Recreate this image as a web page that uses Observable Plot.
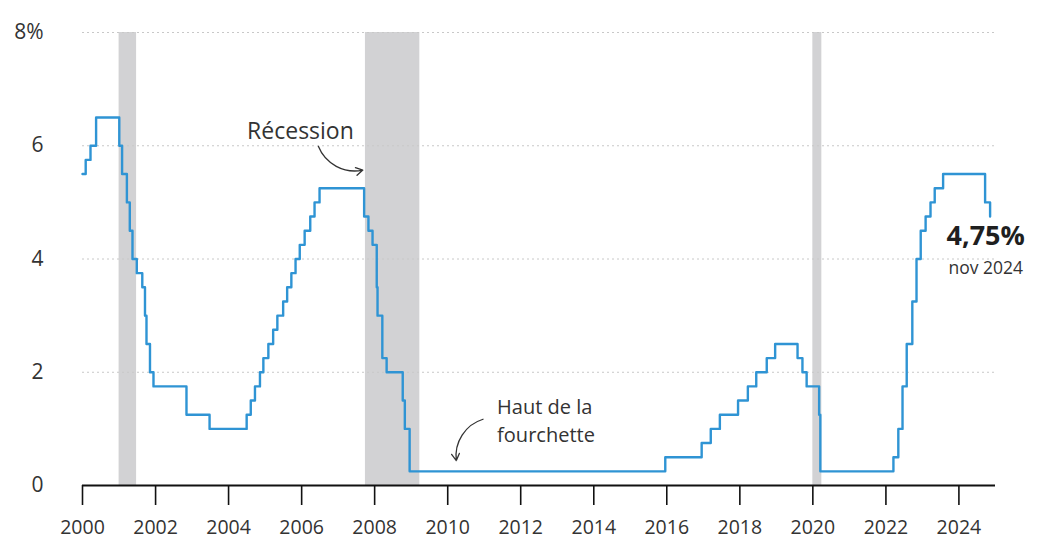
<!DOCTYPE html>
<html>
<head>
<meta charset="utf-8">
<script src="https://cdn.jsdelivr.net/npm/d3@7"></script>
<script src="https://cdn.jsdelivr.net/npm/@observablehq/plot@0.6"></script>
<style>
  html, body { margin: 0; padding: 0; background: #fff; }
  #chart { width: 1037px; height: 549px; }
</style>
</head>
<body>
<div id="chart"></div>
<script>
// Fed funds target rate (upper bound), change dates and values
const rateDates = [
  "2000-01-01","2000-02-02","2000-03-21","2000-05-16",
  "2001-01-03","2001-01-31","2001-03-20","2001-04-18","2001-05-15","2001-06-27",
  "2001-08-21","2001-09-17","2001-10-02","2001-11-06","2001-12-11",
  "2002-11-06","2003-06-25",
  "2004-06-30","2004-08-10","2004-09-21","2004-11-10","2004-12-14",
  "2005-02-02","2005-03-22","2005-05-03","2005-06-30","2005-08-09","2005-09-20","2005-11-01","2005-12-13",
  "2006-01-31","2006-03-28","2006-05-10","2006-06-29",
  "2007-09-18","2007-10-31","2007-12-11",
  "2008-01-22","2008-01-30","2008-03-18","2008-04-30","2008-10-08","2008-10-29","2008-12-16",
  "2015-12-17","2016-12-15","2017-03-16","2017-06-15","2017-12-14",
  "2018-03-22","2018-06-14","2018-09-27","2018-12-20",
  "2019-08-01","2019-09-19","2019-10-31",
  "2020-03-04","2020-03-16",
  "2022-03-17","2022-05-05","2022-06-16","2022-07-28","2022-09-22","2022-11-03","2022-12-15",
  "2023-02-02","2023-03-23","2023-05-04","2023-07-27",
  "2024-09-19","2024-11-08"
];
const rateValues = [
  5.50, 5.75, 6.00, 6.50,
  6.00, 5.50, 5.00, 4.50, 4.00, 3.75,
  3.50, 3.00, 2.50, 2.00, 1.75,
  1.25, 1.00,
  1.25, 1.50, 1.75, 2.00, 2.25,
  2.50, 2.75, 3.00, 3.25, 3.50, 3.75, 4.00, 4.25,
  4.50, 4.75, 5.00, 5.25,
  4.75, 4.50, 4.25,
  3.50, 3.00, 2.25, 2.00, 1.50, 1.00, 0.25,
  0.50, 0.75, 1.00, 1.25, 1.50,
  1.75, 2.00, 2.25, 2.50,
  2.25, 2.00, 1.75,
  1.25, 0.25,
  0.50, 1.00, 1.75, 2.50, 3.25, 4.00, 4.50,
  4.75, 5.00, 5.25, 5.50,
  5.00, 4.75
];

// Recession shading as drawn in the picture
const recessionStarts = ["2001-01-01", "2007-10-01", "2020-01-01"];
const recessionEnds   = ["2001-06-25", "2009-03-28", "2020-03-31"];

// Axis ticks
const yTicks = [0, 2, 4, 6, 8];
const xTickYears = [2000, 2002, 2004, 2006, 2008, 2010, 2012, 2014, 2016, 2018, 2020, 2022, 2024];

// Annotation texts
const lastLabel = "4,75%";
const lastDate = "nov 2024";
const recessionLabel = "Récession";
const rangeLabelLine1 = "Haut de la";
const rangeLabelLine2 = "fourchette";

const parse = d3.utcParse("%Y-%m-%d");
const rates = rateDates.map((d, i) => ({date: parse(d), value: rateValues[i]}));
const recessions = recessionStarts.map((s, i) => ({start: parse(s), end: parse(recessionEnds[i])}));
const xTicks = xTickYears.map(y => new Date(Date.UTC(y, 0, 1)));

const font = "'Open Sans', 'Noto Sans', sans-serif";
const ink = "#333333";

const chart = Plot.plot({
  width: 1037,
  height: 549,
  marginLeft: 82,
  marginRight: 42,
  marginTop: 32,
  marginBottom: 64,
  style: {fontFamily: font, background: "#ffffff", color: ink},
  x: {type: "utc", domain: [new Date(Date.UTC(2000,0,1)), new Date(Date.UTC(2025,0,1))]},
  y: {domain: [0, 8]},
  marks: [
    Plot.rectY(recessions, {x1: "start", x2: "end", y1: 0, y2: 8, fill: "#d2d2d4"}),
    Plot.gridY(yTicks.filter(d => d > 0), {stroke: "#c8c8c8", strokeOpacity: 1, strokeDasharray: "2,3", strokeWidth: 1}),
    Plot.axisY(yTicks, {
      tickSize: 0, tickPadding: 39, fontSize: 21, fill: ink,
      tickFormat: d => d === 8 ? "8%" : String(d), label: null
    }),
    Plot.axisX(xTicks, {
      tickSize: 20, tickPadding: 15, fontSize: 19.5, fill: ink, stroke: "#111", strokeWidth: 1.6,
      tickFormat: d => String(d.getUTCFullYear()), label: null
    }),
    Plot.ruleY([0], {stroke: "#111", strokeWidth: 2}),
    Plot.line(rates, {x: "date", y: "value", curve: "step-after", stroke: "#2f94d4", strokeWidth: 2.4}),
    // Récession annotation
    Plot.text([recessionLabel], {x: () => parse("2005-12-20"), y: 6.25, text: d => d, fontSize: 23, fill: ink}),
    Plot.arrow([0], {
      x1: () => parse("2006-06-17"), y1: 5.99,
      x2: () => parse("2007-09-05"), y2: 5.57,
      bend: -40, stroke: ink, strokeWidth: 1.3, headLength: 9
    }),
    // Haut de la fourchette annotation
    Plot.text([rangeLabelLine1], {
      x: () => parse("2011-05-10"), y: 1.377, text: d => d, fontSize: 20, fill: ink, textAnchor: "start"
    }),
    Plot.text([rangeLabelLine2], {
      x: () => parse("2011-05-10"), y: 0.89, text: d => d, fontSize: 20, fill: ink, textAnchor: "start"
    }),
    Plot.arrow([0], {
      x1: () => parse("2010-12-20"), y1: 1.17,
      x2: () => parse("2010-03-28"), y2: 0.44,
      bend: -40, stroke: ink, strokeWidth: 1.3, headLength: 9
    }),
    // Last value
    Plot.text([lastLabel], {x: () => parse("2024-09-25"), y: 4.4, text: d => d, fontSize: 27, fontWeight: "bold", fill: "#1f1f1f"}),
    Plot.text([lastDate], {x: () => parse("2024-09-25"), y: 3.83, text: d => d, fontSize: 17.5, fill: ink})
  ]
});

document.getElementById("chart").appendChild(chart);
</script>
</body>
</html>
